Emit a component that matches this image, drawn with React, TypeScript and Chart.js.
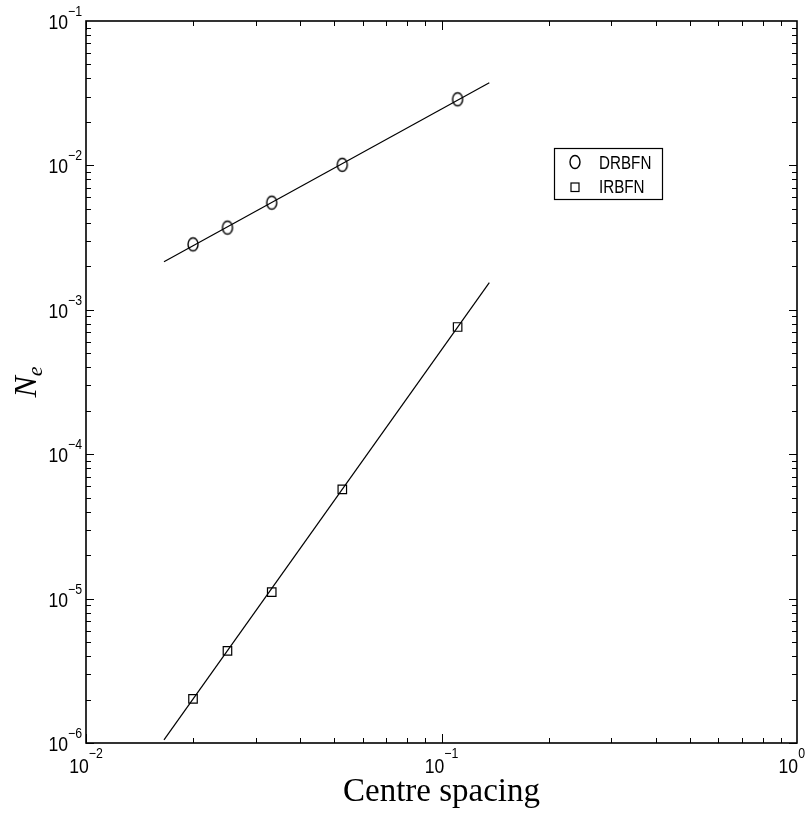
import React, { useEffect, useRef } from 'react';
import { Chart, registerables } from 'chart.js';

Chart.register(...registerables);

const W = 811;
const H = 818;

// Data
const spacing = [0.02, 0.025, 0.0333, 0.0526, 0.111];
const drbfnErr = [0.00284, 0.00371, 0.00552, 0.0101, 0.0287];
const irbfnErr = [2.02e-6, 4.34e-6, 1.11e-5, 5.71e-5, 7.6e-4];
const fitX = [0.01657, 0.1363];
const drbfnFit = [0.00215, 0.03738];
const irbfnFit = [1.05e-6, 1.54e-3];

const xDecades = [-2, -1, 0];
const yDecades = [-6, -5, -4, -3, -2, -1];
const legendLabels = ['DRBFN', 'IRBFN'];
const xTitle = 'Centre spacing';
const yTitleMain = 'N';
const yTitleSub = 'e';

const SX = 0.88; // horizontal squeeze of sans text

let ellipseCache: HTMLCanvasElement | null = null;
function getEllipse(): HTMLCanvasElement {
  if (ellipseCache) return ellipseCache;
  const c = document.createElement('canvas');
  c.width = 14;
  c.height = 18;
  const g = c.getContext('2d')!;
  g.strokeStyle = '#000';
  g.lineWidth = 1.4;
  g.beginPath();
  g.ellipse(7, 9, 5, 6.5, 0, 0, Math.PI * 2);
  g.stroke();
  ellipseCache = c;
  return c;
}

function squeezedText(ctx: CanvasRenderingContext2D, text: string, x: number, y: number, font: string, sx: number) {
  ctx.save();
  ctx.font = font;
  ctx.textAlign = 'left';
  ctx.textBaseline = 'alphabetic';
  ctx.translate(x, y);
  ctx.scale(sx, 1);
  ctx.fillText(text, 0, 0);
  ctx.restore();
}

function textW(ctx: CanvasRenderingContext2D, text: string, font: string, sx: number) {
  ctx.save();
  ctx.font = font;
  const w = ctx.measureText(text).width * sx;
  ctx.restore();
  return w;
}

const BASE_FONT = '20px "Liberation Sans", Arial, sans-serif';
const EXP_FONT = '14px "Liberation Sans", Arial, sans-serif';
const LEG_FONT = '19px "Liberation Sans", Arial, sans-serif';

const axesPlugin = {
  id: 'matlabAxes',
  afterDraw(chart: any) {
    const ctx: CanvasRenderingContext2D = chart.ctx;
    const { left, right, top, bottom } = chart.chartArea;
    const xs = chart.scales.x;
    const ys = chart.scales.y;
    ctx.save();
    ctx.strokeStyle = '#000';
    ctx.fillStyle = '#000';
    ctx.lineWidth = 1;

    // x ticks (bottom & top), inward
    for (let d = xDecades[0]; d < xDecades[xDecades.length - 1]; d++) {
      for (let m = 1; m <= 9; m++) {
        const px = Math.round(xs.getPixelForValue(m * Math.pow(10, d))) + 0.5;
        const len = m === 1 ? 9 : 5;
        ctx.beginPath();
        ctx.moveTo(px, bottom);
        ctx.lineTo(px, bottom - len);
        ctx.moveTo(px, top);
        ctx.lineTo(px, top + len);
        ctx.stroke();
      }
    }
    // y ticks (left & right), inward
    for (let d = yDecades[0]; d < yDecades[yDecades.length - 1]; d++) {
      for (let m = 1; m <= 9; m++) {
        const py = Math.round(ys.getPixelForValue(m * Math.pow(10, d))) + 0.5;
        const len = m === 1 ? 8 : 5;
        ctx.beginPath();
        ctx.moveTo(left, py);
        ctx.lineTo(left + len, py);
        ctx.moveTo(right, py);
        ctx.lineTo(right - len, py);
        ctx.stroke();
      }
    }

    // box
    ctx.lineWidth = 1.6;
    ctx.strokeRect(left, top, right - left, bottom - top);

    // x tick labels
    for (const d of xDecades) {
      const px = xs.getPixelForValue(Math.pow(10, d));
      const exp = d === 0 ? '0' : '\u2212' + Math.abs(d);
      const w1 = textW(ctx, '10', BASE_FONT, SX);
      const w2 = textW(ctx, exp, EXP_FONT, SX);
      let start = px - (w1 + w2) / 2;
      if (start + w1 + w2 > W - 6) start = W - 6 - w1 - w2;
      squeezedText(ctx, '10', start, bottom + 30, BASE_FONT, SX);
      squeezedText(ctx, exp, start + w1, bottom + 15, EXP_FONT, SX);
    }
    // y tick labels
    for (const d of yDecades) {
      const py = ys.getPixelForValue(Math.pow(10, d));
      const exp = '\u2212' + Math.abs(d);
      const w1 = textW(ctx, '10', BASE_FONT, SX);
      const w2 = textW(ctx, exp, EXP_FONT, SX);
      const end = left - 4;
      const start = end - w1 - w2;
      squeezedText(ctx, '10', start, py + 8, BASE_FONT, SX);
      squeezedText(ctx, exp, start + w1, py - 5, EXP_FONT, SX);
    }

    // x title
    ctx.font = '33px "Liberation Serif", "Times New Roman", serif';
    ctx.textAlign = 'center';
    ctx.textBaseline = 'alphabetic';
    ctx.fillText(xTitle, (left + right) / 2, bottom + 58);

    // y title (rotated)
    ctx.save();
    ctx.translate(36, (top + bottom) / 2);
    ctx.rotate(-Math.PI / 2);
    const nFont = 'italic 32px "Liberation Serif", "Times New Roman", serif';
    const eFont = 'italic 22px "Liberation Serif", "Times New Roman", serif';
    ctx.font = nFont;
    const wn = ctx.measureText(yTitleMain).width;
    ctx.font = eFont;
    const we = ctx.measureText(yTitleSub).width;
    const s = -(wn + we) / 2;
    ctx.textAlign = 'left';
    ctx.font = nFont;
    ctx.fillText(yTitleMain, s, 0);
    ctx.font = eFont;
    ctx.fillText(yTitleSub, s + wn, 6);
    ctx.restore();

    // legend
    ctx.lineWidth = 1.2;
    ctx.strokeRect(554.5, 148.5, 108, 51);
    const ell = getEllipse();
    ctx.drawImage(ell, 575 - ell.width / 2, 162 - ell.height / 2);
    ctx.lineWidth = 1.2;
    ctx.strokeRect(571, 183, 8, 8.5);
    ctx.fillStyle = '#000';
    squeezedText(ctx, legendLabels[0], 599, 169, LEG_FONT, 0.8);
    squeezedText(ctx, legendLabels[1], 599, 193, LEG_FONT, 0.8);

    ctx.restore();
  },
};

export default function App() {
  const ref = useRef<HTMLCanvasElement | null>(null);
  useEffect(() => {
    if (!ref.current) return;
    const ellipse = getEllipse();
    const chart: any = new Chart(ref.current, {
      type: 'scatter',
      data: {
        datasets: [
          {
            label: legendLabels[0] + ' fit',
            data: fitX.map((x, i) => ({ x, y: drbfnFit[i] })),
            showLine: true,
            borderColor: '#000',
            borderWidth: 1.2,
            pointRadius: 0,
          },
          {
            label: legendLabels[1] + ' fit',
            data: fitX.map((x, i) => ({ x, y: irbfnFit[i] })),
            showLine: true,
            borderColor: '#000',
            borderWidth: 1.2,
            pointRadius: 0,
          },
          {
            label: legendLabels[0],
            data: spacing.map((x, i) => ({ x, y: drbfnErr[i] })),
            showLine: false,
            pointStyle: ellipse as any,
            pointRadius: 6,
            borderColor: '#000',
          },
          {
            label: legendLabels[1],
            data: spacing.map((x, i) => ({ x, y: irbfnErr[i] })),
            showLine: false,
            pointStyle: 'rect',
            pointRadius: 6,
            borderColor: '#000',
            borderWidth: 1.2,
            backgroundColor: 'rgba(0,0,0,0)',
          },
        ],
      },
      options: {
        responsive: false,
        animation: false,
        layout: { padding: { left: 86, right: 14, top: 21, bottom: 75 } },
        plugins: { legend: { display: false }, tooltip: { enabled: false } },
        scales: {
          x: { type: 'logarithmic', min: 0.01, max: 1, display: false },
          y: { type: 'logarithmic', min: 1e-6, max: 0.1, display: false },
        },
      },
      plugins: [axesPlugin],
    });
    return () => chart.destroy();
  }, []);
  return (
    <div style={{ position: 'fixed', left: 0, top: 0, width: W, height: H, background: '#fff' }}>
      <canvas ref={ref} width={W} height={H} style={{ width: W, height: H, display: 'block' }} />
    </div>
  );
}
